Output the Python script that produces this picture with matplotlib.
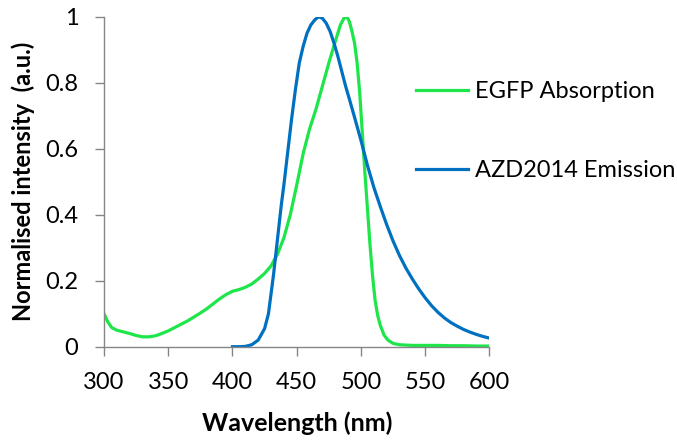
import matplotlib
matplotlib.use("Agg")
import matplotlib.pyplot as plt

plt.rcParams['font.family'] = ['Lato', 'DejaVu Sans']

# EGFP absorption spectrum (normalised)
egfp_nm = [300, 303, 306, 310, 315, 320, 325, 330, 335, 340, 345, 350, 355, 360,
           365, 370, 375, 380, 385, 390, 395, 400, 405, 410, 415, 420, 425, 430,
           435, 440, 445, 450, 455, 460, 465, 470, 475, 480, 484, 487, 489, 491,
           493, 495, 497, 499, 501, 503, 505, 507, 509, 511, 513, 515, 518, 521,
           525, 530, 540, 550, 560, 570, 580, 590, 600]
egfp_abs = [0.100, 0.075, 0.058, 0.050, 0.045, 0.040, 0.034, 0.030, 0.030, 0.033,
            0.040, 0.048, 0.058, 0.068, 0.078, 0.090, 0.102, 0.115, 0.130, 0.145,
            0.158, 0.168, 0.173, 0.180, 0.190, 0.205, 0.222, 0.245, 0.280, 0.330,
            0.400, 0.490, 0.585, 0.660, 0.720, 0.790, 0.860, 0.925, 0.975, 0.997,
            1.000, 0.985, 0.955, 0.920, 0.860, 0.770, 0.650, 0.530, 0.420, 0.310,
            0.215, 0.140, 0.095, 0.065, 0.035, 0.020, 0.010, 0.006, 0.004, 0.004,
            0.004, 0.003, 0.003, 0.002, 0.002]

# AZD2014 emission spectrum (normalised)
azd_nm = [400, 405, 410, 415, 420, 425, 428, 430, 432, 434, 436, 438, 440, 443,
          446, 449, 452, 455, 458, 461, 464, 467, 470, 473, 476, 479, 482, 485,
          488, 491, 495, 500, 505, 510, 515, 520, 525, 530, 535, 540, 545,
          550, 555, 560, 565, 570, 575, 580, 585, 590, 595, 600]
azd_em = [0.000, 0.000, 0.001, 0.006, 0.020, 0.055, 0.100, 0.160, 0.220, 0.290,
          0.360, 0.430, 0.490, 0.590, 0.690, 0.780, 0.860, 0.910, 0.950, 0.975,
          0.990, 1.000, 0.995, 0.980, 0.955, 0.920, 0.880, 0.835, 0.790, 0.750,
          0.695, 0.625, 0.550, 0.483, 0.425, 0.370, 0.320, 0.276, 0.238, 0.205,
          0.175, 0.148, 0.124, 0.104, 0.087, 0.073, 0.062, 0.052, 0.044,
          0.037, 0.031, 0.026]

x_ticks = [300, 350, 400, 450, 500, 550, 600]
y_ticks = [0, 0.2, 0.4, 0.6, 0.8, 1]
y_ticklabels = ['0', '0.2', '0.4', '0.6', '0.8', '1']

fig = plt.figure(figsize=(6.77, 4.41), dpi=100)
ax = fig.add_axes([0.1536, 0.2138, 0.5694, 0.7484])

ax.plot(egfp_nm, egfp_abs, color='#1ee64a', lw=2.3, label='EGFP Absorption')
ax.plot(azd_nm, azd_em, color='#0070c0', lw=2.3, label='AZD2014 Emission')

ax.set_xlim(300, 600)
ax.set_ylim(0, 1)
ax.set_xticks(x_ticks)
ax.set_yticks(y_ticks)
ax.set_yticklabels(y_ticklabels)

for side in ['top', 'right']:
    ax.spines[side].set_visible(False)
for side in ['left', 'bottom']:
    ax.spines[side].set_color('#868686')
    ax.spines[side].set_linewidth(1.0)
ax.tick_params(axis='both', colors='#868686', labelcolor='black',
               labelsize=17, length=6.5, width=1.0, direction='out')
ax.tick_params(axis='y', pad=12)
ax.tick_params(axis='x', pad=12)

ax.set_xlabel('Wavelength (nm)', fontsize=18, fontweight='bold', labelpad=13)
ax.set_ylabel('Normalised intensity  (a.u.)', fontsize=17, fontweight='bold',
              labelpad=7)

fig.legend(loc='center left', bbox_to_anchor=(0.6145, 0.703), frameon=False,
           fontsize=17, handlelength=2.2, handletextpad=0.3, labelspacing=2.45,
           borderpad=0, borderaxespad=0)

fig.savefig('out.png', dpi=100)
